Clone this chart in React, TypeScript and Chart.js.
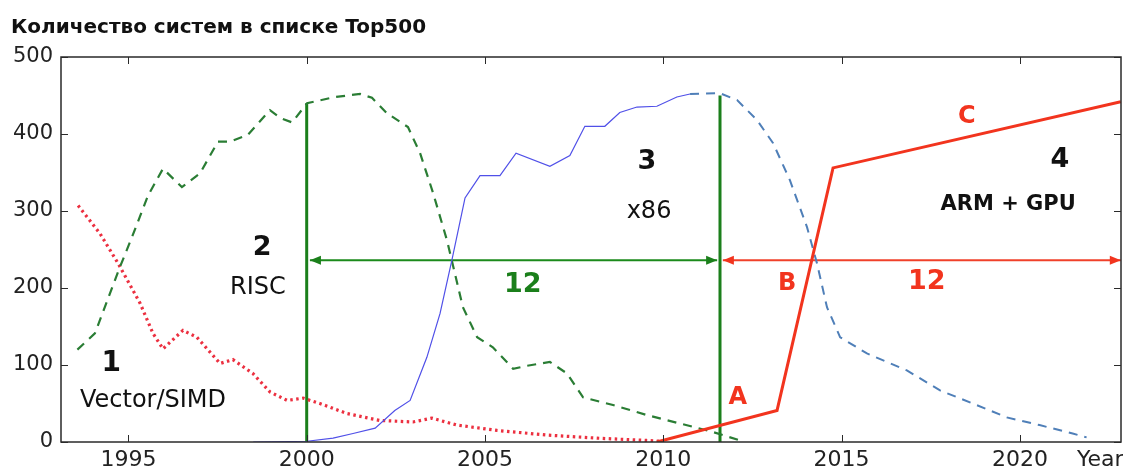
import React, { useEffect, useRef } from "react";
import { Chart, registerables } from "chart.js";

Chart.register(...registerables);

// ---------- data ----------
const xTickYears = [1995, 2000, 2005, 2010, 2015, 2020];
const yTickValues = [0, 100, 200, 300, 400, 500];

const vectorYears = [1993.59, 1994.2, 1994.71, 1995.33, 1995.69, 1995.97, 1996.53, 1996.92, 1997.57, 1997.93, 1998.49, 1998.97, 1999.45, 1999.9, 2000.37, 2001.13, 2002.05, 2002.98, 2003.51, 2004.21, 2005.34, 2006.74, 2008.14, 2009.54, 2009.91];
const vectorCounts = [307, 271, 232, 180, 141, 121, 145, 136, 102, 107, 89, 65, 54, 57, 50, 37, 28, 26, 31, 22, 15, 9, 5, 2, 1];

const riscYears = [1993.57, 1994.06, 1994.76, 1995.1, 1995.55, 1995.97, 1996.5, 1997.01, 1997.51, 1997.85, 1998.35, 1998.97, 1999.25, 1999.59, 2000.01, 2000.79, 2001.5, 2001.83, 2002.25, 2002.84, 2003.18, 2003.54, 2003.94, 2004.38, 2004.78, 2005.22, 2005.79, 2006.18, 2006.82, 2007.3, 2007.75, 2008.59, 2009.54, 2010.47, 2011.39, 2012.15];
const riscCounts = [120, 141, 227, 266, 320, 355, 331, 349, 390, 390, 399, 431, 421, 415, 440, 448, 452, 447, 427, 409, 375, 324, 261, 175, 136, 123, 95, 99, 104, 89, 58, 48, 35, 24, 13, 2];

const x86Years = [1998.5, 2000.01, 2000.74, 2001.3, 2001.92, 2002.47, 2002.9, 2003.37, 2003.74, 2004.07, 2004.44, 2004.86, 2005.42, 2005.87, 2006.82, 2007.38, 2007.8, 2008.36, 2008.78, 2009.26, 2009.82, 2010.38, 2010.75];
const x86Counts = [0, 1, 5, 11, 18, 41, 54, 110, 167, 236, 317, 346, 346, 375, 358, 372, 410, 410, 428, 435, 436, 448, 452];

const x86ForecastYears = [2010.75, 2011.59, 2012.07, 2012.63, 2013.08, 2013.55, 2014.03, 2014.31, 2014.59, 2014.96, 2015.71, 2016.83, 2017.76, 2018.68, 2019.63, 2020.55, 2021.48, 2021.87];
const x86ForecastCounts = [452, 453, 444, 418, 388, 340, 279, 232, 175, 136, 115, 93, 67, 50, 32, 22, 11, 6];

const armYears = [2009.82, 2013.19, 2014.76, 2022.83];
const armCounts = [0, 41, 356, 442];

const boundaryYears = [2000, 2011.59];
const boundaryTops = [440, 450];

const spanLevel = 236;
const greenSpanYears = [2000.09, 2011.51];
const redSpanYears = [2011.67, 2022.83];

const titleText = "Количество систем в списке Top500";
const axisEndLabel = "Year";

const labelTexts = ["1", "Vector/SIMD", "2", "RISC", "3", "x86", "12", "4", "ARM + GPU", "C", "B", "12", "A"];
const labelYears = [1994.52, 1995.69, 1998.75, 1998.63, 2009.54, 2009.6, 2006.06, 2021.12, 2019.67, 2018.51, 2013.47, 2017.39, 2012.09];
const labelCounts = [102, 54, 252, 200, 364, 299, 204, 366, 308, 422, 206, 208, 57];

// ---------- styles ----------
const TICK_FONT = "'DejaVu Sans', sans-serif";
const BLACK = "#111111";
const GREEN = "#1b7f1b";
const RED = "#f2341e";
const labelStyles = [
  { font: `bold 28px ${TICK_FONT}`, color: BLACK },
  { font: `24px ${TICK_FONT}`, color: BLACK },
  { font: `bold 27px ${TICK_FONT}`, color: BLACK },
  { font: `24px ${TICK_FONT}`, color: BLACK },
  { font: `bold 27px ${TICK_FONT}`, color: BLACK },
  { font: `24px ${TICK_FONT}`, color: BLACK },
  { font: `bold 27px ${TICK_FONT}`, color: GREEN },
  { font: `bold 27px ${TICK_FONT}`, color: BLACK },
  { font: `bold 21px ${TICK_FONT}`, color: BLACK },
  { font: `bold 24px ${TICK_FONT}`, color: RED },
  { font: `bold 24px ${TICK_FONT}`, color: RED },
  { font: `bold 27px ${TICK_FONT}`, color: RED },
  { font: `bold 24px ${TICK_FONT}`, color: RED },
];

const zip = (xs: number[], ys: number[]) => xs.map((x, i) => ({ x, y: ys[i] }));

const decorPlugin = {
  id: "decor",
  afterDatasetsDraw(chart: any) {
    const { ctx, chartArea: a, scales } = chart;
    const xs = scales.x;
    const ys = scales.y;
    ctx.save();

    // arrowheads on span datasets
    const heads = [
      { idx: 7, color: GREEN },
      { idx: 8, color: RED },
    ];
    for (const h of heads) {
      const meta = chart.getDatasetMeta(h.idx);
      const p0 = meta.data[0];
      const p1 = meta.data[1];
      ctx.fillStyle = h.color;
      const L = 11;
      const W = 4.5;
      ctx.beginPath();
      ctx.moveTo(p0.x, p0.y);
      ctx.lineTo(p0.x + L, p0.y - W);
      ctx.lineTo(p0.x + L, p0.y + W);
      ctx.closePath();
      ctx.fill();
      ctx.beginPath();
      ctx.moveTo(p1.x, p1.y);
      ctx.lineTo(p1.x - L, p1.y - W);
      ctx.lineTo(p1.x - L, p1.y + W);
      ctx.closePath();
      ctx.fill();
    }

    // frame
    ctx.strokeStyle = "#2a2a2a";
    ctx.lineWidth = 1.5;
    ctx.strokeRect(a.left, a.top, a.right - a.left, a.bottom - a.top);

    // inward ticks on all sides
    ctx.lineWidth = 1;
    ctx.beginPath();
    for (const t of xs.ticks) {
      const px = Math.round(xs.getPixelForValue(t.value)) + 0.5;
      ctx.moveTo(px, a.bottom);
      ctx.lineTo(px, a.bottom - 7);
      ctx.moveTo(px, a.top);
      ctx.lineTo(px, a.top + 7);
    }
    for (const t of ys.ticks) {
      const py = Math.round(ys.getPixelForValue(t.value)) + 0.5;
      ctx.moveTo(a.left, py);
      ctx.lineTo(a.left + 7, py);
      ctx.moveTo(a.right, py);
      ctx.lineTo(a.right - 7, py);
    }
    ctx.stroke();

    // annotation labels
    ctx.textAlign = "center";
    ctx.textBaseline = "middle";
    labelTexts.forEach((txt, i) => {
      ctx.font = labelStyles[i].font;
      ctx.fillStyle = labelStyles[i].color;
      ctx.fillText(txt, xs.getPixelForValue(labelYears[i]), ys.getPixelForValue(labelCounts[i]));
    });

    // title
    ctx.textAlign = "left";
    ctx.textBaseline = "alphabetic";
    ctx.font = `bold 20px ${TICK_FONT}`;
    ctx.fillStyle = BLACK;
    ctx.fillText(titleText, 11, 33);

    // axis end label
    ctx.font = `22px ${TICK_FONT}`;
    ctx.fillStyle = "#222222";
    ctx.fillText(axisEndLabel, 1077, 466);
    ctx.restore();
  },
};

export default function App() {
  const ref = useRef<HTMLCanvasElement | null>(null);

  useEffect(() => {
    document.body.style.margin = "0";
    const canvas = ref.current;
    if (!canvas) return;
    const line = (data: any[], color: string, width: number, dash: number[] = []) => ({
      data,
      borderColor: color,
      backgroundColor: color,
      borderWidth: width,
      borderDash: dash,
      pointRadius: 0,
      tension: 0,
      fill: false,
      borderCapStyle: "butt",
    });
    const chart = new Chart(canvas, {
      type: "line",
      data: {
        datasets: [
          line(zip(armYears, armCounts), RED, 3),
          line(zip(x86Years, x86Counts), "#5050e8", 1.2),
          line(zip(x86ForecastYears, x86ForecastCounts), "#4f7fb8", 2, [9, 7]),
          line(zip(riscYears, riscCounts), "#2a7d34", 2.2, [9, 7]),
          line(zip(vectorYears, vectorCounts), "#ec3040", 3.2, [2.5, 3.5]),
          line([{ x: boundaryYears[0], y: 0 }, { x: boundaryYears[0], y: boundaryTops[0] }], GREEN, 3),
          line([{ x: boundaryYears[1], y: 0 }, { x: boundaryYears[1], y: boundaryTops[1] }], GREEN, 3),
          line(zip(greenSpanYears, [spanLevel, spanLevel]), "#1b8a1b", 2),
          line(zip(redSpanYears, [spanLevel, spanLevel]), "#f0402a", 2),
        ] as any,
      },
      options: {
        animation: false,
        responsive: false,
        maintainAspectRatio: false,
        devicePixelRatio: 1,
        layout: { padding: { top: 57, right: 2, left: 0, bottom: 0 } },
        plugins: { legend: { display: false }, tooltip: { enabled: false }, title: { display: false } },
        scales: {
          x: {
            type: "linear",
            min: 1993.11,
            max: 2022.835,
            grid: { display: false, drawTicks: false },
            border: { display: false },
            afterBuildTicks: (s: any) => {
              s.ticks = xTickYears.map((v) => ({ value: v }));
            },
            afterFit: (s: any) => {
              s.height = 26;
            },
            ticks: {
              autoSkip: false,
              maxRotation: 0,
              padding: 5,
              color: "#222222",
              font: { family: TICK_FONT, size: 22 },
              callback: (v: any) => String(v),
            },
          },
          y: {
            type: "linear",
            min: 0,
            max: 500,
            grid: { display: false, drawTicks: false },
            border: { display: false },
            afterBuildTicks: (s: any) => {
              s.ticks = yTickValues.map((v) => ({ value: v }));
            },
            afterFit: (s: any) => {
              s.width = 61;
            },
            ticks: {
              padding: 8,
              color: "#222222",
              font: { family: TICK_FONT, size: 21 },
              callback: (v: any) => String(v),
            },
          },
        },
      },
      plugins: [decorPlugin],
    } as any);
    return () => chart.destroy();
  }, []);

  return (
    <div style={{ position: "absolute", left: 0, top: 0, width: 1123, height: 468 }}>
      <canvas ref={ref} width={1123} height={468} style={{ display: "block" }} />
    </div>
  );
}
